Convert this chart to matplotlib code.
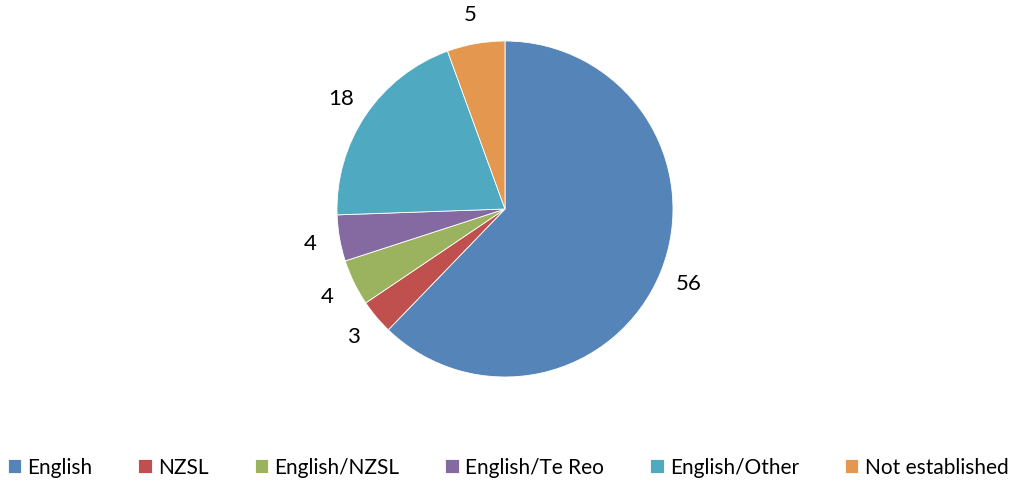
import matplotlib
matplotlib.use("Agg")
import matplotlib.pyplot as plt

categories = ["English", "NZSL", "English/NZSL", "English/Te Reo", "English/Other", "Not established"]
values = [56, 3, 4, 4, 18, 5]
colors = ["#5585B8", "#C0504D", "#9BB35E", "#846AA0", "#4FA9C0", "#E3974F"]

plt.rcParams["font.family"] = ["Lato", "DejaVu Sans"]

W, H = 1016, 489
fig = plt.figure(figsize=(W / 100, H / 100), dpi=100)
cx, cy, r = 505, 210, 168
ax = fig.add_axes([(cx - r) / W, (H - cy - r) / H, 2 * r / W, 2 * r / H])

wedges, texts = ax.pie(values, colors=colors, startangle=90, counterclock=False,
                       labels=[str(v) for v in values], labeldistance=1.18,
                       wedgeprops=dict(linewidth=0.6, edgecolor="white"),
                       textprops=dict(fontsize=16, color="black"))
for t in texts:
    t.set_ha("center")
    t.set_va("center")
ax.set_xlim(-1, 1)
ax.set_ylim(-1, 1)
ax.set_aspect("equal")
ax.axis("off")

fig.legend(wedges, categories, loc="center", bbox_to_anchor=(0.5, 1 - 468 / H),
           ncol=6, frameon=False, fontsize=15, handlelength=0.65, handleheight=0.65,
           handletextpad=0.3, columnspacing=2.2)

fig.savefig("out.png", dpi=100)
